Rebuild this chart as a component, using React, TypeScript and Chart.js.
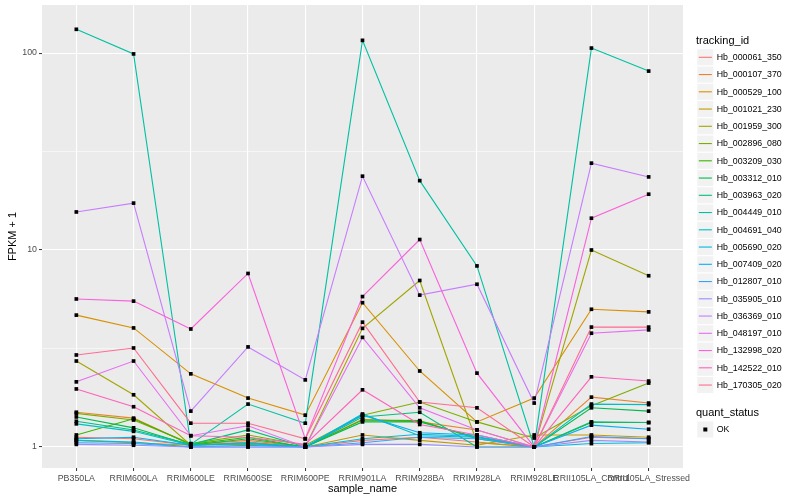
import React, { useEffect, useRef } from "react";
import { Chart, registerables } from "chart.js";
Chart.register(...registerables);

const sampleNames = [
  "PB350LA", "RRIM600LA", "RRIM600LE", "RRIM600SE", "RRIM600PE", "RRIM901LA",
  "RRIM928BA", "RRIM928LA", "RRIM928LE", "RRII105LA_Control", "RRII105LA_Stressed",
];

const trackingIds = [
  "Hb_000061_350", "Hb_000107_370", "Hb_000529_100", "Hb_001021_230", "Hb_001959_300",
  "Hb_002896_080", "Hb_003209_030", "Hb_003312_010", "Hb_003963_020", "Hb_004449_010",
  "Hb_004691_040", "Hb_005690_020", "Hb_007409_020", "Hb_012807_010", "Hb_035905_010",
  "Hb_036369_010", "Hb_048197_010", "Hb_132998_020", "Hb_142522_010", "Hb_170305_020",
];

const seriesColors = [
  "#F8766D", "#EA8331", "#D89000", "#C09B00", "#A3A500", "#7CAE00", "#39B600", "#00BB4E",
  "#00BF7D", "#00C1A3", "#00BFC4", "#00BAE0", "#00B0F6", "#35A2FF", "#9590FF", "#C77CFF",
  "#E76BF3", "#FA62DB", "#FF62BC", "#FF6C91",
];

// FPKM + 1 per sample (same order as sampleNames)
const hb_000061_350 = [1.12, 1.10, 1.02, 1.06, 1.00, 1.08, 1.12, 1.06, 1.00, 1.12, 1.10];
const hb_000107_370 = [1.50, 1.40, 1.03, 1.08, 1.00, 1.38, 1.34, 1.22, 1.00, 1.79, 1.67];
const hb_000529_100 = [4.67, 4.02, 2.35, 1.77, 1.45, 5.40, 2.43, 1.34, 1.77, 5.00, 4.85];
const hb_001021_230 = [1.08, 1.05, 1.02, 1.03, 1.00, 1.15, 1.08, 1.02, 1.15, 1.15, 1.12];
const hb_001959_300 = [2.73, 1.84, 1.02, 1.05, 1.00, 4.00, 7.00, 1.05, 1.00, 10.0, 7.40];
const hb_002896_080 = [1.48, 1.37, 1.04, 1.15, 1.02, 1.45, 1.69, 1.34, 1.11, 1.62, 2.11];
const hb_003209_030 = [1.15, 1.39, 1.03, 1.12, 1.00, 1.37, 1.36, 1.10, 1.00, 1.33, 1.33];
const hb_003312_010 = [1.42, 1.25, 1.02, 1.10, 1.00, 1.34, 1.34, 1.12, 1.00, 1.58, 1.52];
const hb_003963_020 = [1.35, 1.22, 1.03, 1.22, 1.00, 1.42, 1.50, 1.00, 1.00, 1.34, 1.33];
const hb_004449_010 = [132, 99, 1.03, 1.65, 1.32, 116, 22.5, 8.3, 1.00, 106, 81];
const hb_004691_040 = [1.31, 1.20, 1.02, 1.05, 1.00, 1.47, 1.14, 1.12, 1.00, 1.65, 1.64];
const hb_005690_020 = [1.08, 1.06, 1.00, 1.02, 1.00, 1.10, 1.16, 1.13, 1.00, 1.04, 1.05];
const hb_007409_020 = [1.10, 1.12, 1.02, 1.04, 1.00, 1.45, 1.18, 1.15, 1.00, 1.29, 1.23];
const hb_012807_010 = [1.05, 1.04, 1.00, 1.00, 1.00, 1.05, 1.12, 1.10, 1.00, 1.13, 1.10];
const hb_035905_010 = [1.03, 1.02, 1.00, 1.00, 1.00, 1.03, 1.03, 1.00, 1.00, 1.08, 1.06];
const hb_036369_010 = [15.6, 17.3, 1.52, 3.22, 2.19, 23.7, 5.90, 6.70, 1.67, 27.6, 23.5];
const hb_048197_010 = [2.14, 2.73, 1.14, 1.28, 1.00, 3.60, 1.58, 1.22, 1.00, 3.78, 3.93];
const hb_132998_020 = [5.64, 5.50, 3.97, 7.60, 1.10, 5.80, 11.3, 2.37, 1.00, 14.5, 19.2];
const hb_142522_010 = [1.97, 1.60, 1.14, 1.12, 1.03, 1.95, 1.30, 1.15, 1.00, 2.27, 2.16];
const hb_170305_020 = [2.93, 3.18, 1.32, 1.32, 1.10, 4.30, 1.69, 1.58, 1.00, 4.06, 4.06];

const seriesValues = [
  hb_000061_350, hb_000107_370, hb_000529_100, hb_001021_230, hb_001959_300,
  hb_002896_080, hb_003209_030, hb_003312_010, hb_003963_020, hb_004449_010,
  hb_004691_040, hb_005690_020, hb_007409_020, hb_012807_010, hb_035905_010,
  hb_036369_010, hb_048197_010, hb_132998_020, hb_142522_010, hb_170305_020,
];

const yMajorTicks = [1, 10, 100];
const yMinorTicks = [Math.sqrt(10), Math.sqrt(1000)];
const quantStatus = ["OK"];

const FONT = "'Liberation Sans', Arial, Helvetica, sans-serif";

const decorPlugin = {
  id: "ggdecor",
  beforeDraw(chart: any) {
    const { ctx, chartArea: a } = chart;
    ctx.save();
    ctx.fillStyle = "#FFFFFF";
    ctx.fillRect(0, 0, chart.width, chart.height);
    ctx.fillStyle = "#EBEBEB";
    ctx.fillRect(a.left, a.top, a.right - a.left, a.bottom - a.top);
    ctx.restore();
  },
  afterDraw(chart: any) {
    const { ctx, chartArea: a } = chart;
    ctx.save();
    // axis titles
    ctx.fillStyle = "#000000";
    ctx.font = `11px ${FONT}`;
    ctx.textAlign = "center";
    ctx.textBaseline = "middle";
    ctx.fillText("sample_name", (a.left + a.right) / 2, 489);
    ctx.save();
    ctx.translate(13, (a.top + a.bottom) / 2);
    ctx.rotate(-Math.PI / 2);
    ctx.fillText("FPKM + 1", 0, 0);
    ctx.restore();

    // legend: tracking_id
    const lx = 696;
    const keyX = 697.3;
    const keyS = 17.25;
    ctx.textAlign = "left";
    ctx.font = `11px ${FONT}`;
    ctx.fillText("tracking_id", lx, 40.5);
    const y0 = 57.3;
    trackingIds.forEach((id, i) => {
      const cy = y0 + i * keyS;
      ctx.fillStyle = "#F2F2F2";
      ctx.fillRect(keyX, cy - keyS / 2 + 0.6, keyS - 1.2, keyS - 1.2);
      ctx.strokeStyle = seriesColors[i];
      ctx.lineWidth = 1.1;
      ctx.beginPath();
      ctx.moveTo(keyX + 1.5, cy);
      ctx.lineTo(keyX + keyS - 2.7, cy);
      ctx.stroke();
      ctx.fillStyle = "#000000";
      ctx.font = `8.8px ${FONT}`;
      ctx.fillText(id, 716.7, cy + 0.5);
    });

    // legend: quant_status
    ctx.font = `11px ${FONT}`;
    ctx.fillText("quant_status", lx, 412.7);
    quantStatus.forEach((q, i) => {
      const cy = 429.5 + i * keyS;
      ctx.fillStyle = "#F2F2F2";
      ctx.fillRect(keyX, cy - keyS / 2 + 0.6, keyS - 1.2, keyS - 1.2);
      ctx.fillStyle = "#000000";
      ctx.fillRect(keyX + keyS / 2 - 2.6, cy - 2, 4, 4);
      ctx.font = `8.8px ${FONT}`;
      ctx.fillText(q, 716.7, cy + 0.5);
    });
    ctx.restore();
  },
};

export default function App() {
  const ref = useRef<HTMLCanvasElement | null>(null);

  useEffect(() => {
    document.body.style.margin = "0";
    const canvas = ref.current;
    if (!canvas) return;

    const lineSets = seriesValues.map((vals, i) => ({
      type: "line" as const,
      label: trackingIds[i],
      data: vals.map((v, j) => ({ x: j + 1, y: v })),
      borderColor: seriesColors[i],
      backgroundColor: seriesColors[i],
      borderWidth: 1.1,
      pointRadius: 0,
      fill: false,
      tension: 0,
      order: 100 - i,
    }));
    const pointSets = seriesValues.map((vals, i) => ({
      type: "line" as const,
      label: trackingIds[i] + " OK",
      data: vals.map((v, j) => ({ x: j + 1, y: v })),
      showLine: false,
      borderColor: "#000000",
      backgroundColor: "#000000",
      pointStyle: "rect" as const,
      pointRadius: 2.6,
      pointBorderWidth: 0,
      order: 0,
    }));

    const chart = new Chart(canvas, {
      type: "line",
      data: { datasets: [...lineSets, ...pointSets] as any },
      options: {
        responsive: false,
        animation: false,
        events: [],
        layout: { padding: { left: 0, top: 5, right: 117, bottom: 0 } },
        plugins: { legend: { display: false }, tooltip: { enabled: false } },
        scales: {
          x: {
            type: "linear",
            min: 0.4,
            max: 11.6,
            afterBuildTicks: (scale: any) => {
              scale.ticks = sampleNames.map((_, i) => ({ value: i + 1 }));
            },
            afterFit: (scale: any) => {
              scale.height = 32;
              scale.paddingLeft = 0;
              scale.paddingRight = 0;
              scale.paddingTop = 0;
              scale.paddingBottom = 0;
            },
            ticks: {
              autoSkip: false,
              maxRotation: 0,
              minRotation: 0,
              padding: 2,
              color: "#4D4D4D",
              font: { family: FONT, size: 8.8 },
              callback: (v: any) => sampleNames[Math.round(Number(v)) - 1] ?? "",
            },
            grid: {
              color: "#FFFFFF",
              lineWidth: 1.1,
              drawTicks: true,
              tickLength: 3,
              tickColor: "#333333",
              tickWidth: 1,
            },
            border: { display: false },
          },
          y: {
            type: "logarithmic",
            min: Math.pow(10, -0.107),
            max: Math.pow(10, 2.244),
            afterBuildTicks: (scale: any) => {
              scale.ticks = [...yMajorTicks, ...yMinorTicks]
                .sort((p, q) => p - q)
                .map((v) => ({ value: v }));
            },
            afterFit: (scale: any) => {
              scale.width = 42;
              scale.paddingLeft = 0;
              scale.paddingRight = 0;
              scale.paddingTop = 0;
              scale.paddingBottom = 0;
            },
            ticks: {
              padding: 2,
              color: "#4D4D4D",
              font: { family: FONT, size: 8.8 },
              callback: (v: any) => {
                const n = Number(v);
                return yMajorTicks.some((m) => Math.abs(m - n) < 1e-6) ? String(n) : "";
              },
            },
            grid: {
              color: "#FFFFFF",
              lineWidth: (c: any) =>
                c.tick && yMajorTicks.some((m) => Math.abs(m - c.tick.value) < 1e-6) ? 1.1 : 0.55,
              drawTicks: true,
              tickLength: 3,
              tickColor: (c: any) =>
                c.tick && yMajorTicks.some((m) => Math.abs(m - c.tick.value) < 1e-6)
                  ? "#333333"
                  : "rgba(0,0,0,0)",
              tickWidth: 1,
            },
            border: { display: false },
          },
        },
      } as any,
      plugins: [decorPlugin],
    });

    return () => chart.destroy();
  }, []);

  return (
    <div style={{ position: "absolute", left: 0, top: 0, width: 800, height: 500 }}>
      <canvas ref={ref} width={800} height={500} style={{ width: 800, height: 500 }} />
    </div>
  );
}
